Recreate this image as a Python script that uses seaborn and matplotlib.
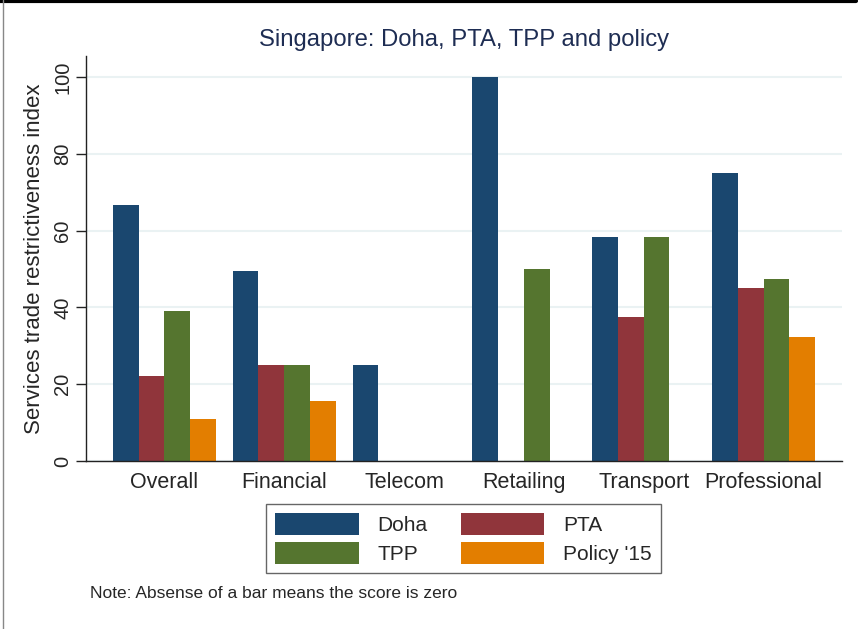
import matplotlib
matplotlib.use("Agg")
import matplotlib.pyplot as plt
from matplotlib.patches import Patch
from matplotlib.lines import Line2D
import numpy as np
import pandas as pd
import seaborn as sns

sns.set_style("white")
plt.rcParams['font.family'] = ['Liberation Sans', 'DejaVu Sans']

# valores
sectores = ["Overall", "Financial", "Telecom", "Retailing", "Transport", "Professional"]
series = ["Doha", "PTA", "TPP", "Policy '15"]
doha = [66.7, 49.4, 25.0, 100.0, 58.3, 75.0]
pta = [22.2, 24.9, 0.0, 0.0, 37.5, 45.0]
tpp = [39.1, 24.9, 0.0, 50.0, 58.3, 47.5]
policy15 = [11.0, 15.6, 0.0, 0.0, 0.0, 32.4]
colores = ["#1a476f", "#90353b", "#55752f", "#e37e00"]

filas = []
for nombre, vals in zip(series, [doha, pta, tpp, policy15]):
    for s, v in zip(sectores, vals):
        filas.append({"sector": s, "serie": nombre, "valor": v})
df = pd.DataFrame(filas)

fig = plt.figure(figsize=(8.6, 6.29), dpi=100)
ax = fig.add_axes([0.1, 0.267, 0.879, 0.644])

sns.barplot(data=df, x="sector", y="valor", hue="serie", order=sectores,
            hue_order=series, palette=colores, width=0.86, saturation=1,
            linewidth=0, legend=False, ax=ax)

ax.set_xlim(-0.654, 5.654)
ax.set_ylim(0, 105.5)
ax.set_yticks([0, 20, 40, 60, 80, 100])
ax.yaxis.grid(True, color="#eaf2f3", linewidth=1.5)
ax.set_axisbelow(True)
for s in ["top", "right"]:
    ax.spines[s].set_visible(False)
for s in ["left", "bottom"]:
    ax.spines[s].set_color("#222222")
    ax.spines[s].set_linewidth(1.0)
ax.tick_params(axis="y", length=7, width=1, color="#222222", pad=3, labelsize=14.5,
               left=True, labelrotation=90)
for lab in ax.get_yticklabels():
    lab.set_va("center")
ax.tick_params(axis="x", length=0, pad=8, labelsize=15.5)
ax.set_xlabel("")
ax.set_ylabel("Services trade restrictiveness index", fontsize=16, labelpad=6)

fig.text(464 / 860, 1 - 40 / 629, "Singapore: Doha, PTA, TPP and policy",
         ha="center", va="center", fontsize=17.2, color="#1e2d53")

handles = [Patch(facecolor=c, edgecolor="none") for c in colores]
orden = [0, 2, 1, 3]  # Doha/TPP a la izquierda, PTA/Policy a la derecha
leg = fig.legend([handles[i] for i in orden], [series[i] for i in orden], ncol=2,
                 loc="upper center", bbox_to_anchor=(463.5 / 860, 1 - 504 / 629),
                 fontsize=15, frameon=True, fancybox=False, handlelength=4.0,
                 handleheight=1.2, handletextpad=0.9, columnspacing=1.6,
                 labelspacing=0.35, borderpad=0.45, borderaxespad=0)
leg.get_frame().set_edgecolor("#404040")
leg.get_frame().set_linewidth(1.0)

fig.text(90 / 860, 1 - 593 / 629, "Note: Absense of a bar means the score is zero",
         ha="left", va="center", fontsize=12.5)

# marco recortado de la imagen original
fig.add_artist(Line2D([0, 0.995], [0.998, 0.998], transform=fig.transFigure,
                      color="black", linewidth=3))
fig.add_artist(Line2D([0.003, 0.003], [0, 1], transform=fig.transFigure,
                      color="#888888", linewidth=1))

fig.savefig("out.png", dpi=100)
